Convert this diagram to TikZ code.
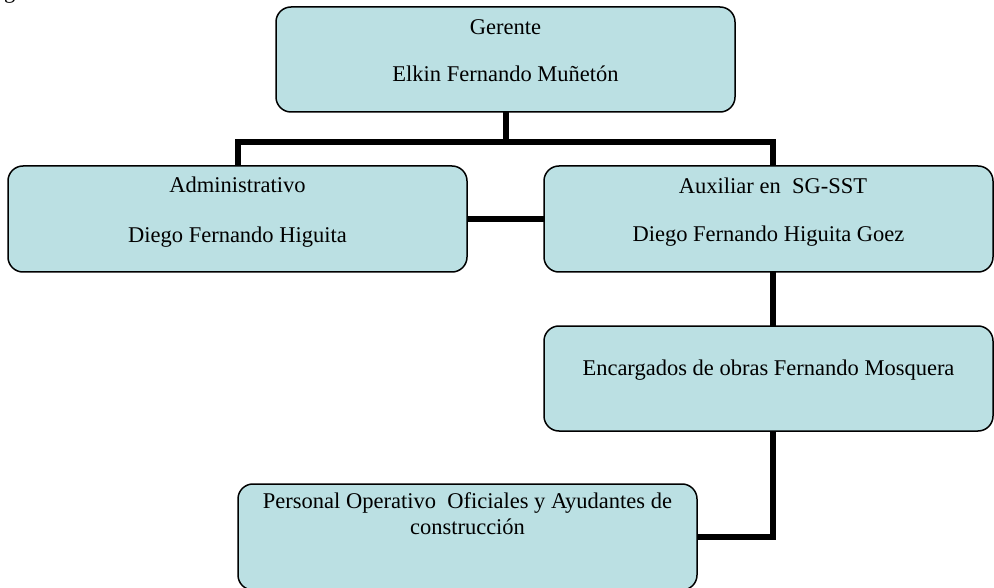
\documentclass[tikz,border=0pt]{standalone}
\usepackage{fontspec}
\setmainfont{Liberation Serif}
\definecolor{boxfill}{RGB}{187,224,227}
\tikzset{
  orgbox/.style={draw=black, line width=1.5pt, fill=boxfill, rounded corners=15pt,
    rectangle, inner sep=0pt, outer sep=0pt},
  conn/.style={draw=black, line width=6pt, line join=miter},
  lbl/.style={anchor=base, inner sep=0pt, font=\fontsize{22.5}{26}\selectfont}
}
\begin{document}
\begin{tikzpicture}[x=1pt,y=-1pt]
\useasboundingbox (0,0) rectangle (994,588);
% partially visible glyph at the top edge
\node[lbl, anchor=base west] (topg) at (4,-1) {g};
% boxes
\node[orgbox, minimum width=459pt, minimum height=105pt] (ger) at (505.5,59.5) {};
\node[orgbox, minimum width=459pt, minimum height=106pt] (adm) at (237.5,219) {};
\node[orgbox, minimum width=449pt, minimum height=106pt] (aux) at (768.5,219) {};
\node[orgbox, minimum width=449pt, minimum height=105pt] (enc) at (768.5,378.5) {};
\node[orgbox, minimum width=459pt, minimum height=106pt] (per) at (467.5,537) {};
% texts
\node[lbl] (ger1) at (505.5,35) {Gerente};
\node[lbl] (ger2) at (505.5,82) {Elkin Fernando Muñetón};
\node[lbl] (adm1) at (237.5,193) {Administrativo};
\node[lbl] (adm2) at (237.5,243) {Diego Fernando Higuita};
\node[lbl] (aux1) at (773,194) {Auxiliar en\ \ SG-SST};
\node[lbl] (aux2) at (768.5,242) {Diego Fernando Higuita Goez};
\node[lbl] (enc1) at (768.5,375) {Encargados de obras Fernando Mosquera};
\node[lbl] (per1) at (467.5,508) {Personal Operativo\ \ Oficiales y Ayudantes de};
\node[lbl] (per2) at (467.5,534) {construcción};
% connectors
\coordinate (bR) at (773,142);
\draw[conn] (ger.south) -- (ger.south |- bR);
\draw[conn] (adm.north) |- (bR) -- (bR |- aux.north);
\draw[conn] (adm.east) -- (aux.west);
\draw[conn] (bR |- aux.south) -- (bR |- enc.north);
\draw[conn] (bR |- enc.south) |- (per.east);
\end{tikzpicture}
\end{document}
